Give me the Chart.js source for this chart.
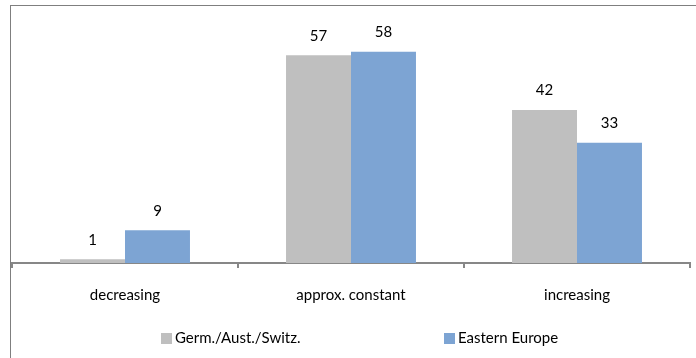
<!DOCTYPE html>
<html>
<head>
<meta charset="utf-8">
<script src="https://cdn.jsdelivr.net/npm/chart.js@4/dist/chart.umd.min.js"></script>
<style>
  html, body { margin: 0; padding: 0; background: #fff; }
  #wrap { position: relative; width: 696px; height: 358px; overflow: hidden; }
  #frame { position: absolute; left: 10px; top: 5px; width: 720px; height: 400px;
           border: 1px solid #7f7f7f; box-sizing: border-box; }
  canvas { position: absolute; left: 0; top: 0; }
</style>
</head>
<body>
<div id="wrap">
  <div id="frame"></div>
  <canvas id="c" width="696" height="358"></canvas>
</div>
<script>
const categories = ['decreasing', 'approx. constant', 'increasing'];
const seriesNames = ['Germ./Aust./Switz.', 'Eastern Europe'];
const dachValues = [1, 57, 42];
const easternValues = [9, 58, 33];
const seriesColors = ['#BFBFBF', '#7DA4D3'];
const FONT = 'Lato, "Liberation Sans", sans-serif';

// value labels above each bar
const valueLabels = {
  id: 'valueLabels',
  afterDatasetsDraw(chart) {
    const ctx = chart.ctx;
    ctx.save();
    ctx.font = '15px ' + FONT;
    ctx.fillStyle = '#000';
    ctx.textAlign = 'center';
    ctx.textBaseline = 'bottom';
    chart.data.datasets.forEach((ds, i) => {
      chart.getDatasetMeta(i).data.forEach((bar, j) => {
        ctx.fillText(String(ds.data[j]), bar.x, bar.y - 12);
      });
    });
    ctx.restore();
  }
};

// wide-spaced legend along the bottom
const wideLegend = {
  id: 'wideLegend',
  afterDraw(chart) {
    const ctx = chart.ctx;
    const xs = [161, 444];
    const y = 338;
    ctx.save();
    ctx.font = '15px ' + FONT;
    ctx.textBaseline = 'middle';
    ctx.textAlign = 'left';
    chart.data.datasets.forEach((ds, i) => {
      ctx.fillStyle = ds.backgroundColor;
      ctx.fillRect(xs[i], y - 5, 11, 11);
      ctx.fillStyle = '#000';
      ctx.fillText(ds.label, xs[i] + 14, y);
    });
    ctx.restore();
  }
};

new Chart(document.getElementById('c'), {
  type: 'bar',
  data: {
    labels: categories,
    datasets: [
      { label: seriesNames[0], data: dachValues, backgroundColor: seriesColors[0] },
      { label: seriesNames[1], data: easternValues, backgroundColor: seriesColors[1] }
    ]
  },
  options: {
    responsive: false,
    animation: false,
    devicePixelRatio: 1,
    layout: { padding: { left: 12, right: 6, top: 8, bottom: 36 } },
    datasets: { bar: { barPercentage: 1.0, categoryPercentage: 0.575 } },
    plugins: { legend: { display: false }, tooltip: { enabled: false } },
    scales: {
      y: { display: false, min: 0, max: 70 },
      x: {
        offset: true,
        border: { display: true, color: '#878787', width: 2 },
        grid: { offset: true, drawOnChartArea: false, drawTicks: true, tickLength: 5, color: '#878787', lineWidth: 2 },
        ticks: { color: '#000', font: { family: FONT, size: 15 }, padding: 18 }
      }
    }
  },
  plugins: [valueLabels, wideLegend]
});
</script>
</body>
</html>
